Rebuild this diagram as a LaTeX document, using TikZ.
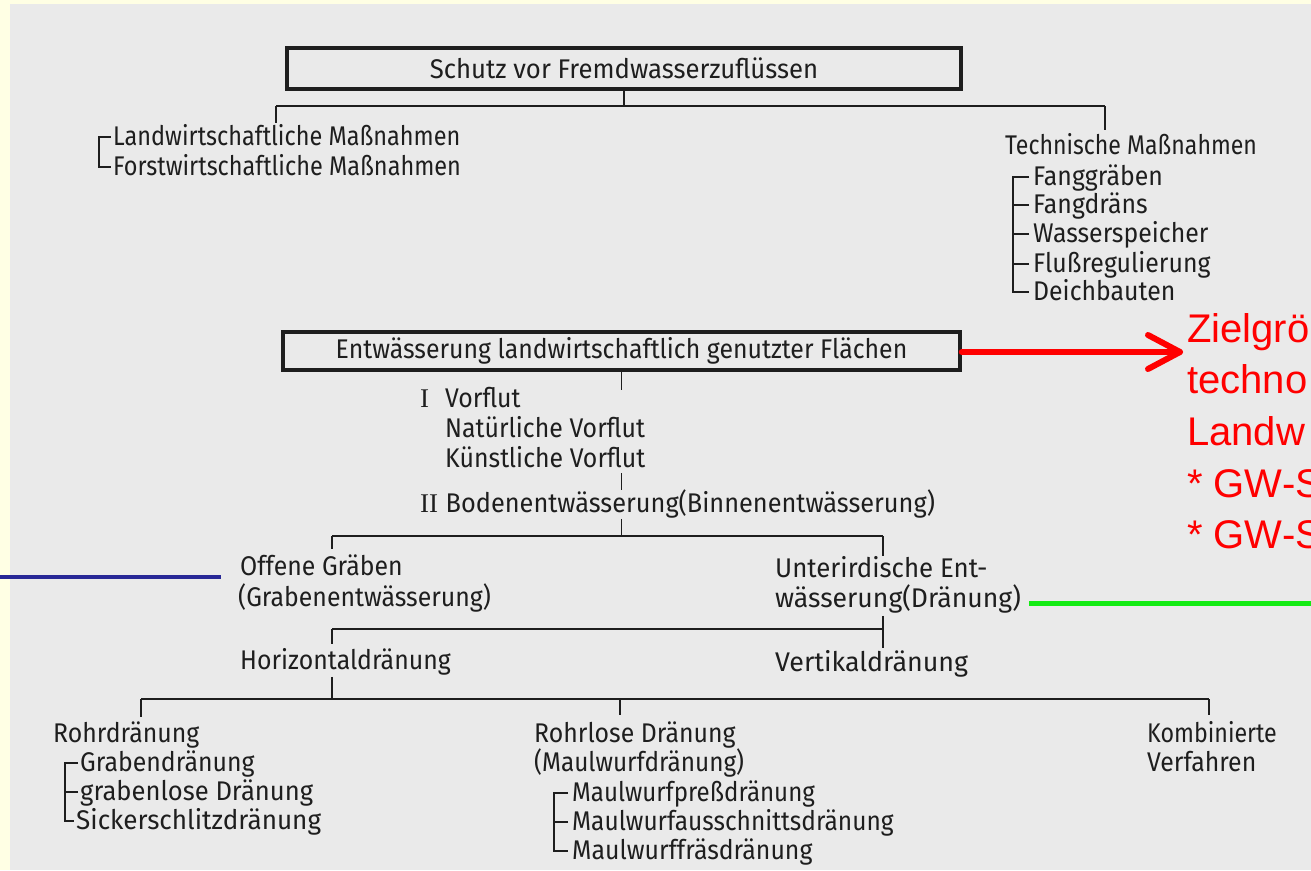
\documentclass[tikz,border=0pt]{standalone}
\usepackage{fontspec}
\usepackage{graphicx}
\setmainfont{Fira Sans}[FakeStretch=0.92]
\newfontfamily\redfont{Liberation Sans}
\newfontfamily\numfont{Liberation Serif}
\usetikzlibrary{calc}
\newcommand{\sx}[2]{\scalebox{#1}[1]{#2}}
\definecolor{slidebg}{RGB}{255,255,228}
\definecolor{paper}{RGB}{234,234,234}
\definecolor{ink}{RGB}{30,30,30}
\definecolor{zielred}{RGB}{255,0,0}
\definecolor{navyline}{RGB}{40,40,150}
\definecolor{brightgreen}{RGB}{20,235,20}
\tikzset{
  txt/.style={inner sep=0pt, anchor=base west, text=ink, font=\fontsize{27}{30}\selectfont},
  boxnode/.style={draw=ink, line width=3.5pt, inner sep=0pt, text=ink, font=\fontsize{27}{30}\selectfont},
  conn/.style={draw=ink, line width=1.8pt},
  redtxt/.style={inner sep=0pt, anchor=base west, text=zielred, font=\redfont\fontsize{40}{46}\selectfont},
  redarr/.style={draw=zielred, line width=6pt, line cap=round, line join=round},
  blueln/.style={draw=navyline, line width=4.5pt},
  greenln/.style={draw=brightgreen, line width=5pt}
}
\begin{document}
\begin{tikzpicture}[x=1pt,y=-1pt]
\useasboundingbox (0,0) rectangle (1311,870);
\fill[slidebg] (0,0) rectangle (1311,870);
\fill[paper] (10,4) rectangle (1311,870);

% ---------- top part ----------
\node[boxnode, minimum width=674pt, minimum height=41pt] (b1) at (624,68.5) {\sx{1.035}{Schutz vor Fremdwasserzuflüssen}};
\node[txt] (lw) at (113,145) {\sx{0.945}{Landwirtschaftliche Maßnahmen}};
\node[txt] (fw) at (113,175) {\sx{0.945}{Forstwirtschaftliche Maßnahmen}};
\node[txt] (tm) at (1005,154) {\sx{0.93}{Technische Maßnahmen}};
\node[txt] (t1) at (1033,185) {Fanggräben};
\node[txt] (t2) at (1033,213) {Fangdräns};
\node[txt] (t3) at (1033,242) {Wasserspeicher};
\node[txt] (t4) at (1033,272) {Flußregulierung};
\node[txt] (t5) at (1033,300) {Deichbauten};

\coordinate (jL) at (276,106);
\coordinate (jR) at (1105,106);
\draw[conn] (b1.south) -- (b1.south |- jL);
\draw[conn] (jL) -- (jR);
\draw[conn] (jL) -- ([yshift=1pt]jL |- lw.north);
\draw[conn] (jR) -- ([yshift=3pt]jR |- tm.north);
\draw[conn] ([shift={(-2pt,8pt)}]lw.base west) -- ++(-12,0) |- ([shift={(-2pt,8pt)}]fw.base west);
\draw[conn] ([shift={(-4pt,8pt)}]t1.base west) -- ++(-16,0) |- ([shift={(-4pt,8pt)}]t5.base west);
\draw[conn] ([shift={(-4pt,8pt)}]t2.base west) -- ++(-16,0);
\draw[conn] ([shift={(-4pt,8pt)}]t3.base west) -- ++(-16,0);
\draw[conn] ([shift={(-4pt,8pt)}]t4.base west) -- ++(-16,0);

% ---------- middle part ----------
\node[boxnode, minimum width=677pt, minimum height=38pt] (b2) at (621.5,351) {Entwässerung landwirtschaftlich genutzter Flächen};
\node[txt] (v1) at (420,407) {{\numfont I}\hspace{16pt}Vorflut};
\node[txt] (v2) at (445,437) {Natürliche Vorflut};
\node[txt] (v3) at (445,467) {Künstliche Vorflut};
\node[txt] (bo) at (420,512) {{\numfont II}\hspace{7.5pt}\sx{1.02}{Bodenentwässerung(Binnenentwässerung)}};
\node[txt] (og1) at (240,575) {Offene Gräben};
\node[txt] (og2) at (238,606) {(Grabenentwässerung)};
\node[txt] (ue1) at (775,577) {\sx{1.04}{Unterirdische Ent-}};
\node[txt] (ue2) at (775,607) {\sx{1.07}{wässerung(Dränung)}};
\node[txt] (hd) at (240,669) {Horizontaldränung};
\node[txt] (vd) at (775,671) {\sx{1.08}{Vertikaldränung}};

\coordinate (c1) at (621.5,390);
\draw[conn] (b2.south) -- (c1);
\coordinate (aM) at (621.5,536);
\coordinate (aL) at (332,536);
\coordinate (aR) at (883,536);
\draw[conn] (aM |- 0,473) -- (aM |- 0,490);
\draw[conn] ([yshift=-1pt]aM |- bo.south) -- (aM);
\draw[conn] (aL) -- (aR);
\draw[conn] (aL) -- ++(0,13);
\draw[conn] (aR) -- ++(0,20);
\coordinate (bL) at (332,629);
\coordinate (bR) at (883,629);
\draw[conn] (bL) -- (bR);
\draw[conn] ([yshift=-3pt]bR |- ue2.south) -- ([yshift=2pt]bR |- vd.north);
\draw[conn] (bL) -- ++(0,15);
\coordinate (cL) at (141,699);
\coordinate (cM) at (620,699);
\coordinate (cR) at (1209,699);
\draw[conn] ([yshift=-2pt]bL |- hd.south) -- (bL |- cL);
\draw[conn] (cL) -- (cR);
\draw[conn] (cL) -- ++(0,18);
\draw[conn] (cM) -- ++(0,16);
\draw[conn] (cR) -- ++(0,16);

% ---------- bottom part ----------
\node[txt] (rd) at (53,742) {Rohrdränung};
\node[txt] (rd1) at (80,771) {Grabendränung};
\node[txt] (rd2) at (80,800) {\sx{1.03}{grabenlose Dränung}};
\node[txt] (rd3) at (76,829) {\sx{1.05}{Sickerschlitzdränung}};
\node[txt] (rl1) at (534,742) {Rohrlose Dränung};
\node[txt] (rl2) at (534,771) {\sx{0.98}{(Maulwurfdränung)}};
\node[txt] (rl3) at (572,801) {\sx{0.97}{Maulwurfpreßdränung}};
\node[txt] (rl4) at (572,830) {\sx{0.985}{Maulwurfausschnittsdränung}};
\node[txt] (rl5) at (572,859) {Maulwurffräsdränung};
\node[txt] (kv1) at (1147,742) {\sx{0.935}{Kombinierte}};
\node[txt] (kv2) at (1147,771) {Verfahren};

\draw[conn] ([shift={(-2pt,8pt)}]rd1.base west) -- ++(-13,0) |- ([shift={(-2pt,8pt)}]rd3.base west);
\draw[conn] ([shift={(-2pt,8pt)}]rd2.base west) -- ++(-13,0);
\draw[conn] ([shift={(-4pt,8pt)}]rl3.base west) -- ++(-14,0) |- ([shift={(-4pt,8pt)}]rl5.base west);
\draw[conn] ([shift={(-4pt,8pt)}]rl4.base west) -- ++(-14,0);

% ---------- slide annotations ----------
\node[redtxt] (z1) at (1187,342) {Zielgrö};
\node[redtxt] (z2) at (1187,393) {techno};
\node[redtxt] (z3) at (1187,445) {Landw};
\node[redtxt] (z4) at (1187,497) {* GW-S};
\node[redtxt] (z5) at (1187,548) {* GW-S};
\coordinate (zt) at (1180,352);
\draw[redarr] (b2.east |- zt) -- (zt);
\draw[redarr] ([shift={(-32pt,17pt)}]zt) -- (zt) -- ([shift={(-32pt,-17pt)}]zt);

\coordinate (blL) at (0,577);
\draw[blueln] (blL) -- ($(blL -| og1.west)+(-19,0)$);
\coordinate (grR) at (1311,603);
\draw[greenln] ($(grR -| ue2.east)+(8,0)$) -- (grR);
\end{tikzpicture}
\end{document}
